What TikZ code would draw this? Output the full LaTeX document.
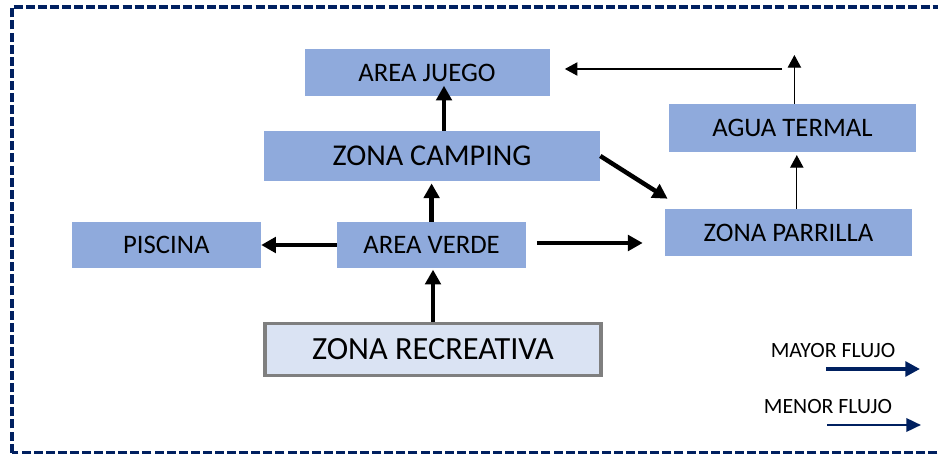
\documentclass[tikz,border=0pt]{standalone}
\usepackage{fontspec}
\setmainfont{Carlito}
\usetikzlibrary{positioning, arrows.meta, calc}
\definecolor{boxblue}{HTML}{8FAADC}
\definecolor{paleblue}{HTML}{DAE3F3}
\definecolor{navy}{HTML}{002060}
\definecolor{edgegray}{HTML}{7F7F7F}

\begin{document}
\begin{tikzpicture}[
  >=Triangle,
  every node/.style={font=\fontsize{19}{22}\selectfont},
  zone/.style={fill=boxblue, inner sep=0pt, align=center, minimum height=1.175cm},
  base/.style={fill=paleblue, draw=edgegray, line width=2.2pt, inner sep=0pt, minimum width=8.4cm, minimum height=1.32cm, font=\fontsize{23}{26}\selectfont},
  legend/.style={font=\fontsize{15.5}{18}\selectfont},
  major/.style={line width=3.2pt, -{Triangle[length=10.5pt, width=11pt]}},
  minor/.style={line width=0.9pt, -{Triangle[length=9pt, width=9.5pt]}},
  keymajor/.style={navy, line width=2.8pt, -{Triangle[length=10.5pt, width=10.5pt]}},
  keyminor/.style={navy, line width=1.9pt, -{Triangle[length=10.5pt, width=9.5pt]}}
]
\useasboundingbox (0,0) rectangle (23.45,11.375);
\clip (0,0) rectangle (23.45,11.375);

% Frame (open on the right)
\draw[navy, line width=2.7pt, dash pattern=on 6.4pt off 2.2pt] (0.3,0.06) rectangle (24,11.2);

% Zones
\node[zone, minimum width=6.125cm] (juego) at (10.675, 9.55) {AREA JUEGO};
\node[zone, minimum width=8.4cm, minimum height=1.25cm, font=\fontsize{21.5}{24}\selectfont] (camping) at (10.8, 7.475) {ZONA CAMPING};
\node[zone, minimum width=6.175cm, minimum height=1.2cm] (agua) at (19.81, 8.175) {AGUA TERMAL};
\node[zone, minimum width=4.725cm, minimum height=1.15cm] (piscina) at (4.16, 5.25) {PISCINA};
\node[zone, minimum width=4.725cm, minimum height=1.15cm] (verde) at (10.79, 5.25) {AREA VERDE};
\node[zone, minimum width=6.175cm] (parrilla) at (19.71, 5.5625) {ZONA PARRILLA};
\node[base] (recreativa) at (10.825, 2.6375) {ZONA RECREATIVA};

% Main flow
\draw[major, shorten >=1pt] (recreativa.north) -- (recreativa.north |- verde.south);
\draw[major, shorten >=1.5pt] (verde.north) -- (verde.north |- camping.south);
\draw[major] ([xshift=3mm]camping.north) -- ++(0,1.125);
\draw[major] (verde.west) -- (piscina.east);
\draw[major, shorten <=7.4pt, shorten >=15.6pt] ([yshift=0.05cm]verde.east) -- ([yshift=0.05cm]verde.east -| parrilla.west);
\draw[major] (camping.east) -- ($(parrilla.north west)+(0.075,0.25)$);

% Minor flow
\coordinate (peak) at (19.86, 10.0);
\coordinate (bend) at (19.55, 9.65);
\draw[minor, shorten >=2pt] ([xshift=2.1mm]parrilla.north) -- ([xshift=2.1mm]parrilla.north |- agua.south);
\draw[minor] (agua.north -| peak) -- (peak);
\draw[minor, shorten >=10.7pt] (bend) -- (bend -| juego.east);

% Legend
\node[legend] (mayor) at (20.825, 2.6) {MAYOR FLUJO};
\node[legend] (menor) at (20.7, 1.2) {MENOR FLUJO};
\coordinate (mayorA) at (20.65, 2.15);
\coordinate (mayorB) at (23.0, 2.15);
\coordinate (menorA) at (20.675, 0.75);
\coordinate (menorB) at (23.025, 0.75);
\draw[keymajor] (mayorA) -- (mayorB);
\draw[keyminor] (menorA) -- (menorB);

\end{tikzpicture}
\end{document}
